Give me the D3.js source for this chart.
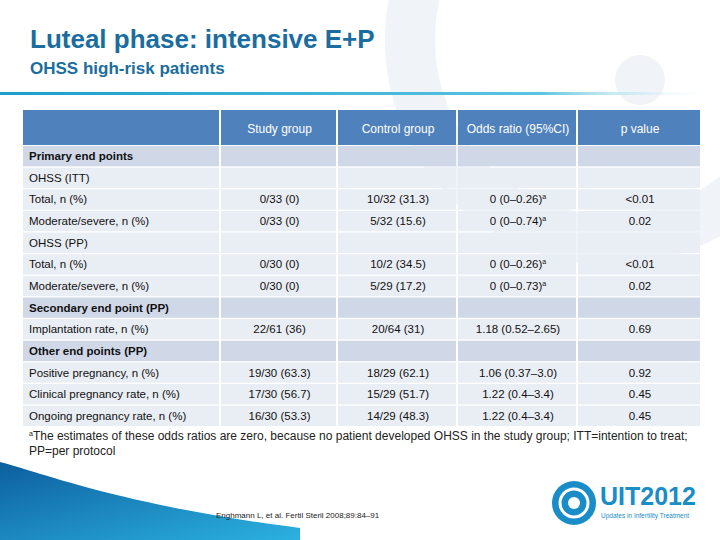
<!DOCTYPE html>
<html><head><meta charset="utf-8">
<script src="https://cdn.jsdelivr.net/npm/d3@7"></script>
<style>body{margin:0;background:#fff}text{font-family:"Liberation Sans",Arial,sans-serif}</style>
</head><body><div id="chart"></div>
<script>
// Data
const headers = ["", "Study group", "Control group", "Odds ratio (95%CI)", "p value"];
const labels = ["Primary end points", "OHSS (ITT)", "Total, n (%)", "Moderate/severe, n (%)", "OHSS (PP)", "Total, n (%)", "Moderate/severe, n (%)",
  "Secondary end point (PP)", "Implantation rate, n (%)", "Other end points (PP)", "Positive pregnancy, n (%)", "Clinical pregnancy rate, n (%)", "Ongoing pregnancy rate, n (%)"];
const rowKinds = ["section", "sub", "data", "data", "sub", "data", "data", "section", "data", "section", "data", "data", "data"];
const studyGroup = ["", "", "0/33 (0)", "0/33 (0)", "", "0/30 (0)", "0/30 (0)", "", "22/61 (36)", "", "19/30 (63.3)", "17/30 (56.7)", "16/30 (53.3)"];
const controlGroup = ["", "", "10/32 (31.3)", "5/32 (15.6)", "", "10/2 (34.5)", "5/29 (17.2)", "", "20/64 (31)", "", "18/29 (62.1)", "15/29 (51.7)", "14/29 (48.3)"];
const oddsRatio = ["", "", "0 (0\u20130.26)", "0 (0\u20130.74)", "", "0 (0\u20130.26)", "0 (0\u20130.73)", "", "1.18 (0.52\u20132.65)", "", "1.06 (0.37\u20133.0)", "1.22 (0.4\u20133.4)", "1.22 (0.4\u20133.4)"];
const oddsNote = [false, false, true, true, false, true, true, false, false, false, false, false, false];
const pValue = ["", "", "<0.01", "0.02", "", "<0.01", "0.02", "", "0.69", "", "0.92", "0.45", "0.45"];

const width = 720, height = 540;
const svg = d3.select('#chart').append('svg').attr('width', width).attr('height', height);

// Background decoration
const defs = svg.append('defs');
const lg = defs.append('linearGradient').attr('id', 'rule');
lg.append('stop').attr('offset', '0%').attr('stop-color', '#1a9fc9');
lg.append('stop').attr('offset', '75%').attr('stop-color', '#5cc3e0');
lg.append('stop').attr('offset', '100%').attr('stop-color', '#ffffff').attr('stop-opacity', 0);
const sw = defs.append('linearGradient').attr('id', 'swoosh').attr('x1', 0).attr('y1', 0).attr('x2', 1).attr('y2', 1);
sw.append('stop').attr('offset', '0%').attr('stop-color', '#0d5f9e');
sw.append('stop').attr('offset', '100%').attr('stop-color', '#2bb1e0');
svg.append('circle').attr('cx', 610).attr('cy', 40).attr('r', 200).attr('fill', 'none').attr('stroke', '#f0f4f8').attr('stroke-width', 50);
svg.append('circle').attr('cx', 640).attr('cy', 80).attr('r', 25).attr('fill', '#f0f4f8');
svg.append('path').attr('d', 'M0,462 C40,472 120,505 300,528 L300,540 L0,540 Z').attr('fill', 'url(#swoosh)');

// Title
svg.append('text').attr('x', 30).attr('y', 48).attr('fill', '#1a6d9e').style('font-size', '26px').style('font-weight', 'bold').text('Luteal phase: intensive E+P');
svg.append('text').attr('x', 30).attr('y', 74).attr('fill', '#1a6d9e').style('font-size', '17px').style('font-weight', 'bold').text('OHSS high-risk patients');
svg.append('rect').attr('x', 0).attr('y', 92).attr('width', 720).attr('height', 3).attr('fill', 'url(#rule)');

// Table
const colEdges = [23, 221, 338, 458, 578, 702];
const tableTop = 110, headH = 35;
const y = d3.scaleBand().domain(d3.range(labels.length)).range([tableTop + headH + 1, 426]).paddingInner(0.06);
const g = svg.append('g');
for (let c = 0; c < 5; c++) {
  g.append('rect').attr('x', colEdges[c]).attr('y', tableTop).attr('width', colEdges[c + 1] - colEdges[c] - 2).attr('height', headH).attr('fill', '#4f81bd');
  g.append('text').attr('x', (colEdges[c] + colEdges[c + 1]) / 2).attr('y', tableTop + headH / 2 + 5).attr('text-anchor', 'middle')
    .attr('fill', '#fff').style('font-size', '12px').text(headers[c]);
}
const cols = [studyGroup, controlGroup, oddsRatio, pValue];
labels.forEach((lab, i) => {
  const ry = y(i), rh = y.bandwidth();
  const fill = rowKinds[i] === 'section' ? '#d0d8e8' : '#e9edf4';
  for (let c = 0; c < 5; c++) {
    g.append('rect').attr('x', colEdges[c]).attr('y', ry).attr('width', colEdges[c + 1] - colEdges[c] - 2).attr('height', rh).attr('fill', fill);
  }
  g.append('text').attr('x', 29).attr('y', ry + rh / 2 + 4).attr('fill', '#111').style('font-size', '11.5px')
    .style('font-weight', rowKinds[i] === 'section' ? 'bold' : 'normal').text(lab);
  cols.forEach((arr, k) => {
    if (!arr[i]) return;
    const t = g.append('text').attr('x', (colEdges[k + 1] + colEdges[k + 2]) / 2).attr('y', ry + rh / 2 + 4).attr('text-anchor', 'middle')
      .attr('fill', '#111').style('font-size', '11.5px').text(arr[i]);
    if (k === 2 && oddsNote[i]) t.append('tspan').attr('dy', -4).style('font-size', '7px').text('a');
  });
});

// Footnote
const fn = svg.append('text').attr('x', 29).attr('y', 440).attr('fill', '#222').style('font-size', '12px');
fn.append('tspan').attr('dy', -4).style('font-size', '7px').text('a');
fn.append('tspan').attr('dy', 4).text('The estimates of these odds ratios are zero, because no patient developed OHSS in the study group; ITT=intention to treat;');
svg.append('text').attr('x', 29).attr('y', 455).attr('fill', '#222').style('font-size', '12px').text('PP=per protocol');
svg.append('text').attr('x', 216).attr('y', 518).attr('fill', '#222').style('font-size', '8px').text('Enghmann L, et al. Fertil Steril 2008;89:84\u201391');

// Logo
const logo = svg.append('g').attr('transform', 'translate(574,503)');
logo.append('circle').attr('r', 22).attr('fill', '#1a8cc8');
logo.append('circle').attr('r', 14).attr('fill', 'none').attr('stroke', '#fff').attr('stroke-width', 3);
logo.append('circle').attr('r', 6).attr('fill', '#fff');
svg.append('text').attr('x', 600).attr('y', 505).attr('fill', '#1a8cc8').style('font-size', '25px').style('font-weight', 'bold').text('UIT2012');
svg.append('text').attr('x', 601).attr('y', 518).attr('fill', '#1a8cc8').style('font-size', '6.5px').text('Updates in Infertility Treatment');
</script></body></html>
